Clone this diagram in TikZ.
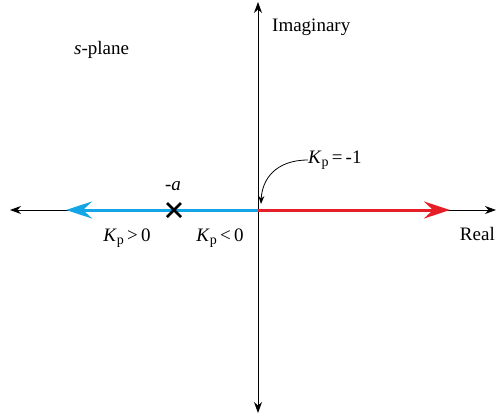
\documentclass[tikz,border=0pt]{standalone}
\usepackage{fontspec}
\setmainfont{Liberation Serif}
\usetikzlibrary{arrows.meta,calc}
\definecolor{locblue}{RGB}{20,165,230}
\definecolor{locred}{RGB}{230,30,40}
\newcommand{\Kpsub}{\textit{K}\raisebox{-0.3ex}{\fontsize{14}{14}\selectfont p}}
\tikzset{
  axis/.style={line width=0.9pt, -{Stealth[length=11pt,width=8pt,inset=3.5pt]}},
  locus/.style={line width=3pt, -{Stealth[length=26pt,width=17pt,inset=9pt]}},
  lbl/.style={font=\fontsize{19}{22}\selectfont, inner sep=0pt},
  pole/.style={line width=2.8pt},
}
\begin{document}
\begin{tikzpicture}[x=1pt,y=-1pt]
\useasboundingbox (0,0) rectangle (496,415);
\coordinate (O) at (258,210);
\coordinate (L) at (10,210);
\coordinate (R) at (496,210);
\coordinate (T) at (258,2);
\coordinate (B) at (258,413);
\coordinate (BT) at (66,210);
\coordinate (RT) at (450,210);
\coordinate (P) at (174,210);
\draw[axis] (O) -- (L);
\draw[axis] (O) -- (R);
\draw[axis] (O) -- (T);
\draw[axis] (O) -- (B);
\draw[locus, locblue] (O) -- (BT);
\draw[locus, locred] (O) -- (RT);
\draw[pole] ($(P)+(-7,-7)$) -- ($(P)+(7,7)$);
\draw[pole] ($(P)+(-7,7)$) -- ($(P)+(7,-7)$);
\node[lbl, anchor=west] (imag) at (272,27) {Imaginary};
\node[lbl, anchor=east] (real) at (495,234) {Real};
\node[lbl, anchor=west] (splane) at (74,50) {\textit{s}-plane};
\node[lbl] (ma) at (173,186) {\textit{-a}};
\node[lbl, anchor=west] (kpm) at (308,160) {\Kpsub\,=\,-1};
\node[lbl] (kpg) at (127,238) {\Kpsub\,>\,0};
\node[lbl] (kpl) at (220,238) {\Kpsub\,<\,0};
\coordinate (ctip) at (261,204);
\draw[line width=0.8pt, -{Stealth[length=8pt,width=6pt,inset=2.5pt]}] (kpm.west) .. controls (275,160) and (262,180) .. (ctip);
\end{tikzpicture}
\end{document}
